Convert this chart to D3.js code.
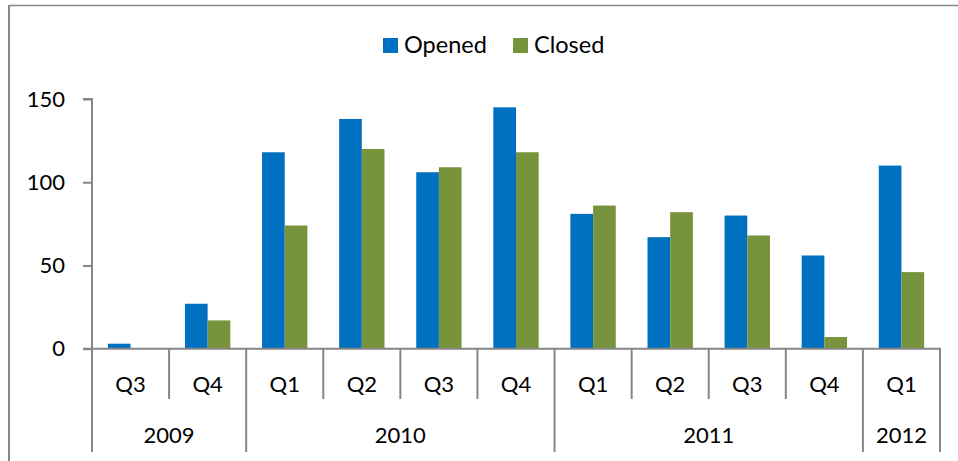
<!DOCTYPE html>
<html><head><meta charset="utf-8">
<script src="https://cdn.jsdelivr.net/npm/d3@7"></script>
<style>
html,body{margin:0;padding:0;background:#fff;}
svg text{font-family:Lato,"Open Sans",sans-serif;fill:#000;}
</style></head>
<body>
<svg id="chart" width="958" height="461"></svg>
<script>
const quarters = ["Q3","Q4","Q1","Q2","Q3","Q4","Q1","Q2","Q3","Q4","Q1"];
const years = ["2009","2009","2010","2010","2010","2010","2011","2011","2011","2011","2012"];
const opened = [3,27,118,138,106,145,81,67,80,56,110];
const closed = [0,17,74,120,109,118,86,82,68,7,46];
const seriesNames = ["Opened","Closed"];
const seriesColors = ["#0070C0","#77933C"];
const yTicks = [0,50,100,150];

(function(){
const svg = d3.select("#chart");
const mLeft = 92, mRight = 940, mTop = 99, mBottom = 348.7;
const axisColor = "#868686";

svg.append("line").attr("x1",9).attr("x2",958).attr("y1",5.5).attr("y2",5.5).attr("stroke",axisColor).attr("stroke-width",1.5);
svg.append("line").attr("x1",9).attr("x2",9).attr("y1",5).attr("y2",461).attr("stroke",axisColor).attr("stroke-width",2);

const idx = quarters.map((q,i)=>i);
const x0 = d3.scaleBand().domain(idx).range([mLeft,mRight]).padding(0);
const x1 = d3.scaleBand().domain(seriesNames).range([0,x0.bandwidth()]).paddingInner(0).paddingOuter(0.7);
const y = d3.scaleLinear().domain([0,150]).range([mBottom,mTop]);

const values = [opened, closed];
seriesNames.forEach((s,si)=>{
  svg.append("g").selectAll("rect").data(idx).join("rect")
    .attr("x", i=>x0(i)+x1(s))
    .attr("width", x1.bandwidth())
    .attr("y", i=>y(values[si][i]))
    .attr("height", i=>y(0)-y(values[si][i]))
    .attr("fill", seriesColors[si]);
});

const yAxis = d3.axisLeft(y).tickValues(yTicks).tickSize(9).tickPadding(18);
const ga = svg.append("g").attr("transform",`translate(${mLeft},0)`).call(yAxis);
ga.select(".domain").attr("stroke",axisColor).attr("stroke-width",2).attr("d",`M-9,${y(150)}H0V${y(0)}`);
ga.selectAll(".tick line").attr("stroke",axisColor).attr("stroke-width",2);
ga.selectAll(".tick text").attr("font-size",22).attr("font-family","Lato").attr("fill","#000").attr("x",-27);

svg.append("line").attr("x1",mLeft-9).attr("x2",mRight+1).attr("y1",y(0)).attr("y2",y(0)).attr("stroke",axisColor).attr("stroke-width",2);

const bounds = d3.range(quarters.length+1);
bounds.forEach(b=>{
  const xb = b<quarters.length ? x0(b) : mRight;
  const isYear = b===0 || b===quarters.length || years[b]!==years[b-1];
  svg.append("line").attr("x1",xb).attr("x2",xb).attr("y1",y(0)).attr("y2",isYear?452:399)
    .attr("stroke",axisColor).attr("stroke-width",2);
});

svg.append("g").selectAll("text").data(idx).join("text")
  .attr("x", i=>x0(i)+x0.bandwidth()/2).attr("y",392)
  .attr("text-anchor","middle").attr("font-size",22).text(i=>quarters[i]);

const yearGroups = d3.groups(idx, i=>years[i]);
svg.append("g").selectAll("text").data(yearGroups).join("text")
  .attr("x", d=>(x0(d[1][0]) + x0(d[1][d[1].length-1]) + x0.bandwidth())/2)
  .attr("y",443).attr("text-anchor","middle").attr("font-size",22).text(d=>d[0]);

const legendX = [383, 513];
seriesNames.forEach((s,si)=>{
  svg.append("rect").attr("x",legendX[si]).attr("y",38).attr("width",15).attr("height",15).attr("fill",seriesColors[si]);
  svg.append("text").attr("x",legendX[si]+21).attr("y",52.5).attr("font-size",23.5).text(s);
});
})();
</script>
</body></html>
